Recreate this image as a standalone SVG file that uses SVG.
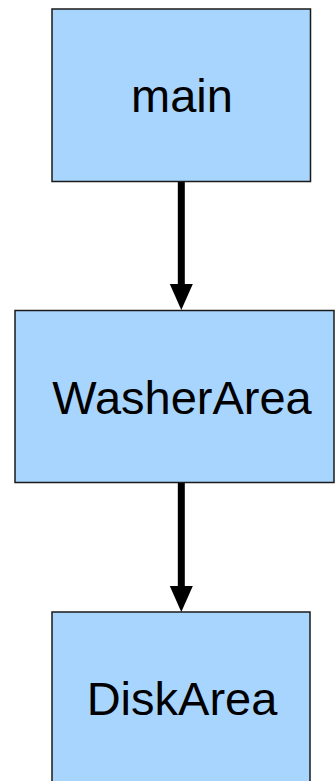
<svg xmlns="http://www.w3.org/2000/svg" width="335" height="781" viewBox="0 0 335 781">
  <style>
    .box { fill: #a8d5fe; stroke: #1a1a1a; stroke-width: 1.5; }
    .label { font-family: "Liberation Sans", Arial, sans-serif; font-size: 47px; fill: #000; text-anchor: middle; }
    .edge { stroke: #000; stroke-width: 7; fill: none; }
    .head { fill: #000; }
  </style>
  <rect width="335" height="781" fill="#ffffff"/>
  <g id="connectors">
    <line class="edge" x1="181.3" y1="182" x2="181.3" y2="288"/>
    <polygon class="head" points="169.8,284 192.8,284 181.3,310"/>
    <line class="edge" x1="181.3" y1="483" x2="181.3" y2="590"/>
    <polygon class="head" points="169.8,586 192.8,586 181.3,612"/>
  </g>
  <g id="main">
    <rect class="box" x="52" y="9" width="258.5" height="172.5"/>
    <text class="label" x="182" y="112">main</text>
  </g>
  <g id="WasherArea">
    <rect class="box" x="15" y="310.5" width="319" height="172"/>
    <text class="label" x="182" y="414">WasherArea</text>
  </g>
  <g id="DiskArea">
    <rect class="box" x="52" y="612" width="258" height="172"/>
    <text class="label" x="182" y="715">DiskArea</text>
  </g>
</svg>
